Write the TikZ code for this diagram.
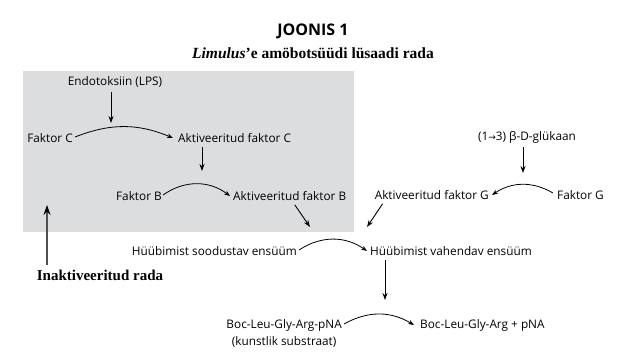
\documentclass[tikz,border=0pt]{standalone}
\usepackage{fontspec}
\setmainfont{Liberation Serif}
\setsansfont{Open Sans}
\newfontfamily\nooled{DejaVu Sans}
\usetikzlibrary{arrows.meta,positioning}
\definecolor{kastihall}{RGB}{220,221,223}
\definecolor{noolehall}{RGB}{80,80,80}
\tikzstyle{every node}=[inner sep=0pt,font=\sffamily\fontsize{11.8}{14}\selectfont]
\tikzstyle{reak}=[-{Stealth[length=6pt,width=4.5pt]},line width=0.8pt]
\tikzstyle{katal}=[-{Stealth[length=7pt,width=5pt]},line width=0.9pt]
\tikzstyle{pealkiri}=[font=\sffamily\bfseries\fontsize{16}{18}\selectfont]
\tikzstyle{alapealkiri}=[font=\rmfamily\bfseries\fontsize{15.5}{18}\selectfont]

\begin{document}
\begin{tikzpicture}[x=1pt,y=-1pt]
  \useasboundingbox (0,0) rectangle (626,353);
  % hall kast
  \fill[kastihall] (23,71) rectangle (354,232);

  \node[pealkiri] (joonis) at (313,31) {JOONIS 1};
  \node[alapealkiri] (rada) at (313,53) {\textit{Limulus}’e amöbotsüüdi lüsaadi rada};

  % endotoksiini rada
  \node (endo) at (115,82) {Endotoksiin (LPS)};
  \node[anchor=east] (fc) at (73,138) {Faktor C};
  \node[anchor=west] (afc) at (178,138) {Aktiveeritud faktor C};
  \node[anchor=east] (fb) at (162,196) {Faktor B};
  \node[anchor=west] (afb) at (233,196) {Aktiveeritud faktor B};

  % glükaani rada
  \node (glu) at (527,137) {(1{\nooled\fontsize{9}{11}\selectfont →}3) β-D-glükaan};
  \node[anchor=east] (afg) at (489,195) {Aktiveeritud faktor G};
  \node[anchor=west] (fg) at (557,195) {Faktor G};

  \node[anchor=east] (hs) at (297,251) {Hüübimist soodustav ensüüm};
  \node[anchor=west] (hv) at (370,251) {Hüübimist vahendav ensüüm};

  \node[anchor=east] (boc) at (342,325) {Boc-Leu-Gly-Arg-pNA};
  \node[below=5pt of boc] (kunst) {(kunstlik substraat)};
  \node[anchor=west] (bocp) at (420,325) {Boc-Leu-Gly-Arg + pNA};

  \node[alapealkiri,font=\rmfamily\bfseries\fontsize{15}{18}\selectfont] (inak) at (100,275) {Inaktiveeritud rada};

  % reaktsioonid
  \draw[reak] ([xshift=2pt,yshift=1pt]fc.east) to[bend left=22] ([xshift=-5pt]afc.west);
  \draw[reak] ([xshift=1pt,yshift=1pt]fb.east) to[bend left=36] ([xshift=-3pt]afb.west);
  \draw[reak] ([xshift=-4pt,yshift=2pt]fg.west) to[bend right=32] ([xshift=3pt]afg.east);
  \draw[reak] ([xshift=2pt,yshift=1pt]hs.east) to[bend left=34] ([xshift=-3pt]hv.west);
  \draw[reak] ([xshift=2pt,yshift=1pt]boc.east) to[bend left=30] ([xshift=-6pt]bocp.west);

  % katalüüsi nooled
  \coordinate (k1) at (111,123);
  \coordinate (k2) at (202,171);
  \coordinate (k3) at (310,227);
  \coordinate (k4) at (523,173);
  \coordinate (k5) at (367,227);
  \coordinate (k6) at (385,300);
  \draw[katal] ([yshift=-4pt]endo.south -| k1) -- (k1);
  \draw[katal] ([yshift=-4pt]afc.south -| k2) -- (k2);
  \draw[katal] ([xshift=5pt,yshift=-4pt]afb.south) -- (k3);
  \draw[katal] ([yshift=-4pt]glu.south -| k4) -- (k4);
  \draw[katal] ([xshift=8pt,yshift=-4pt]afg.south west) -- (k5);
  \draw[katal] ([yshift=-4pt]hv.south west -| k6) -- (k6);

  % inaktiveeritud rada
  \coordinate (kast) at (47,205);
  \draw[noolehall,line width=1.4pt,-{Stealth[length=10pt,width=7pt,black]}] ([yshift=5pt]inak.north -| kast) -- (kast);
\end{tikzpicture}
\end{document}
